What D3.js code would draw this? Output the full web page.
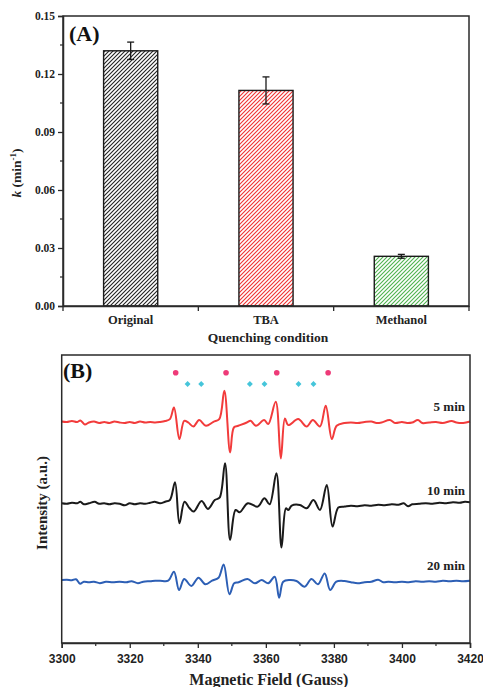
<!DOCTYPE html>
<html><head><meta charset="utf-8">
<script src="https://cdn.jsdelivr.net/npm/d3@7"></script>
<style>body{margin:0;background:#fff}svg{display:block}</style>
</head><body>
<script>
// ---- Panel A data ----
const categories = ["Original", "TBA", "Methanol"];
const kValues = [0.132, 0.1115, 0.0257];
const kErrors = [0.0045, 0.0070, 0.0010];
const barColors = ["#222222", "#f03232", "#4fb34f"];
const yTicksA = [0, 0.03, 0.06, 0.09, 0.12, 0.15];

// ---- Panel B data ----
const fieldTicks = [3300, 3320, 3340, 3360, 3380, 3400, 3420];
const traceLabels = ["5 min", "10 min", "20 min"];
const traceColors = ["#f23b3b", "#1a1a1a", "#2d5fb5"];
const traceBaselines = [221.5, 139.7, 62.3];
const dmpoOH = [3333.5, 3348.3, 3363.2, 3378.3];
const dmpoSO4 = [3337.0, 3341.0, 3355.3, 3359.6, 3369.6, 3374.0];

const trace5 = [[3300,0],[3301.5,-0.5],[3303,0.5],[3304.5,-0.5],[3305.5,1],[3306.8,-3],[3308,-1],[3309.5,0],[3311,-1.5],[3312.5,-0.5],[3314,-1.5],[3315.5,0],[3317,-1],[3318.5,-1.5],[3320,-0.5],[3321.5,-1.5],[3323,0],[3324.5,-1],[3326,-0.5],[3327.5,-1],[3328.9,-0.5],[3330.4,0.5],[3331.8,2.4],[3333.0,14],[3334.6,-17.6],[3336.0,0.7],[3337.2,-1],[3338.7,-5],[3340.4,1.4],[3342.4,-4.3],[3344.6,-0.3],[3346.3,2.4],[3347.8,30.7],[3349.5,-31],[3350.6,-6],[3351.9,-4.3],[3354.4,-1],[3355.5,0.7],[3357.1,-4.3],[3359.5,1.4],[3360.7,-2.6],[3362.9,19.7],[3364.4,-37],[3365.6,3],[3366.6,-3.6],[3369.5,2.4],[3372.0,-5],[3373.8,1.4],[3375.9,-5],[3377.6,15.7],[3379.4,-17.6],[3380.8,-4.3],[3383.1,-1.5],[3385,-1],[3387,-1.5],[3389,-0.5],[3391,0],[3392.5,-1.5],[3394,-1],[3396.4,1.5],[3398,-1.5],[3400,-0.5],[3401.5,-1.5],[3403,-1],[3404.7,1.5],[3406,-1.5],[3408,-1],[3410,-0.5],[3412,-1.5],[3414.6,0.5],[3416,-1],[3418,-1.5],[3420,0]];

const trace10 = [[3300,0],[3301.5,-0.5],[3303,0.5],[3304.5,0],[3305.5,1.5],[3306.5,-1],[3308,0],[3309.7,1.5],[3311,-0.5],[3312.5,0],[3314,-1],[3315.5,0],[3317,-0.5],[3318.5,-2],[3320,0],[3321.5,-1],[3323,0],[3324.5,-0.5],[3326,0.5],[3327.3,1.5],[3328.9,0],[3330.4,1.6],[3331.8,3.3],[3333.3,21],[3334.6,-20],[3336.1,1.6],[3337.6,-5],[3338.8,-8.3],[3341.1,2.3],[3343.0,-5.6],[3345.0,3.3],[3346.4,5.6],[3348.0,40],[3349.5,-36.7],[3351.1,-6.7],[3352.3,-9],[3354.7,0],[3357.6,-3.3],[3359.6,5],[3361.1,-1],[3363.1,30],[3364.6,-44.3],[3365.9,-5],[3366.6,-6.7],[3367.6,-2.3],[3370.0,-1.7],[3372.0,-5],[3374.0,3.3],[3375.9,-6.7],[3377.9,18.3],[3379.6,-23.3],[3381.3,-4.3],[3383.2,-3.3],[3385,-2.5],[3387,-3],[3389,-2],[3391,-2.5],[3393,-1.5],[3395,-2],[3397,-1],[3399,-1.5],[3400.5,0],[3401.8,-3],[3403,-1],[3405,-0.5],[3407,0],[3409,-0.5],[3411,0.5],[3413,0],[3415,1],[3417,0.5],[3418.5,1.5],[3420,1]];

const trace20 = [[3300,0.7],[3301.5,1],[3303,0.5],[3304.2,1.5],[3305.4,-3],[3306.5,-1],[3308,-1.5],[3309.5,-1],[3311.2,-2.5],[3313,-1],[3315,-1.5],[3317,-1],[3319,-1.5],[3320.5,-0.5],[3322.4,-2.5],[3324,-1],[3326,-0.5],[3327.5,0],[3328.9,0],[3331.3,0],[3333.0,9],[3334.5,-9.3],[3336.0,1.7],[3338.1,-5.3],[3340.2,3],[3342.2,-3.6],[3344.2,0],[3346.1,3],[3347.6,16.3],[3349.3,-13.6],[3350.7,-2.6],[3352.0,-1.6],[3354.6,1.7],[3356.8,-2.6],[3358.8,0.7],[3360.7,-2.6],[3362.6,4],[3363.9,-17],[3365.1,-1],[3367.0,0.7],[3369.0,-0.3],[3371.4,-6],[3373.4,1.7],[3375.3,-3.6],[3377.3,7.3],[3378.9,-9.3],[3380.7,-1],[3383.1,-0.3],[3385,-1.5],[3387,-2.5],[3389,-1.5],[3391,-1],[3393,1],[3394.5,-1.5],[3396,-1],[3398,-1.5],[3400,-1],[3402,-1.5],[3404,-0.5],[3406,-1],[3408,-0.5],[3410,-1],[3412,0],[3414,-0.5],[3416,0],[3418,-0.5],[3420,0]];
const traces = [trace5, trace10, trace20];

const SERIF = "'Liberation Serif','Times New Roman',serif";
const SANS = "'Liberation Sans',Arial,sans-serif";
const AX = "#2a2a2a";

const svg = d3.select("body").append("svg").attr("width",483).attr("height",687);
const defs = svg.append("defs");
barColors.forEach((c,i)=>{
  const p = defs.append("pattern").attr("id","hatch"+i).attr("patternUnits","userSpaceOnUse")
    .attr("width",4).attr("height",4);
  p.append("rect").attr("width",4).attr("height",4).attr("fill","#fff");
  p.append("path").attr("d","M-1,1 l2,-2 M0,4 l4,-4 M3,5 l2,-2")
    .attr("stroke",c).attr("stroke-width",1.1);
});

// ================= Panel A =================
const A = {l:63, r:469, t:16, b:306};
const xA = d3.scaleBand().domain(categories).range([A.l, A.r]).padding(0);
const yA = d3.scaleLinear().domain([0,0.15]).range([A.b, A.t]);
const gA = svg.append("g");

const bw = xA.bandwidth()*0.4;
gA.selectAll("rect.bar").data(categories).join("rect")
  .attr("x", d=>xA(d)+xA.bandwidth()/2-bw/2)
  .attr("y", (d,i)=>yA(kValues[i]))
  .attr("width", bw)
  .attr("height", (d,i)=>yA(0)-yA(kValues[i]))
  .attr("fill",(d,i)=>`url(#hatch${i})`)
  .attr("stroke","#1a1a1a").attr("stroke-width",1.4);

categories.forEach((c,i)=>{
  const cx = xA(c)+xA.bandwidth()/2;
  const y1 = yA(kValues[i]+kErrors[i]), y2 = yA(kValues[i]-kErrors[i]);
  const g = gA.append("g").attr("stroke","#1a1a1a").attr("stroke-width",1.3);
  g.append("line").attr("x1",cx).attr("x2",cx).attr("y1",y1).attr("y2",y2);
  g.append("line").attr("x1",cx-3.5).attr("x2",cx+3.5).attr("y1",y1).attr("y2",y1);
  g.append("line").attr("x1",cx-3.5).attr("x2",cx+3.5).attr("y1",y2).attr("y2",y2);
});

gA.append("rect").attr("x",A.l).attr("y",A.t).attr("width",A.r-A.l).attr("height",A.b-A.t)
  .attr("fill","none").attr("stroke",AX).attr("stroke-width",1.5);

const yAxA = gA.append("g").attr("transform",`translate(${A.l},0)`)
  .call(d3.axisLeft(yA).tickValues(yTicksA).tickFormat(d3.format(".2f")).tickSize(5).tickPadding(3));
yAxA.select(".domain").attr("stroke",AX).attr("stroke-width",1.5);
yAxA.selectAll(".tick line").attr("stroke",AX).attr("stroke-width",1.3);
yAxA.selectAll("text").attr("font-family",SERIF).attr("font-weight","bold").attr("font-size",11.5).attr("fill","#222");
const minorA = d3.range(0.015,0.15,0.03);
gA.selectAll("line.minA").data(minorA).join("line")
  .attr("x1",A.l-3).attr("x2",A.l).attr("y1",d=>yA(d)).attr("y2",d=>yA(d))
  .attr("stroke",AX).attr("stroke-width",1.2);

const xAxA = gA.append("g").attr("transform",`translate(0,${A.b})`)
  .call(d3.axisBottom(xA).tickSize(0).tickPadding(9));
xAxA.select(".domain").attr("stroke",AX).attr("stroke-width",1.5);
xAxA.selectAll("text").attr("font-family",SERIF).attr("font-weight","bold").attr("font-size",12.5).attr("fill","#222");
const bounds = categories.map(c=>xA(c)).concat([A.r]);
gA.selectAll("line.bnd").data(bounds).join("line")
  .attr("x1",d=>d).attr("x2",d=>d).attr("y1",A.b).attr("y2",A.b+5)
  .attr("stroke",AX).attr("stroke-width",1.3);

gA.append("text").attr("x",(A.l+A.r)/2+2).attr("y",342).attr("text-anchor","middle")
  .attr("font-family",SERIF).attr("font-weight","bold").attr("font-size",13.5).attr("fill","#222")
  .text("Quenching condition");
const yl = gA.append("text").attr("transform",`translate(21,${(A.t+A.b)/2+12}) rotate(-90)`)
  .attr("text-anchor","middle").attr("font-family",SERIF).attr("font-weight","bold").attr("font-size",13.5).attr("fill","#222");
yl.append("tspan").attr("font-style","italic").text("k");
yl.append("tspan").text(" (min");
yl.append("tspan").attr("font-size",9).attr("dy",-5).text("-1");
yl.append("tspan").attr("dy",5).text(")");
gA.append("text").attr("x",69).attr("y",41).attr("font-family",SERIF).attr("font-weight","bold")
  .attr("font-size",22).attr("fill","#111").text("(A)");

// ================= Panel B =================
const B = {l:61.7, r:470, t:355, b:643};
const xB = d3.scaleLinear().domain([3300,3420]).range([B.l,B.r]);
const yB = d3.scaleLinear().domain([0,288]).range([B.b,B.t]);
const gB = svg.append("g");

const line = d3.line().x(d=>xB(d[0])).y(d=>yB(d[1])).curve(d3.curveCatmullRom.alpha(0.5));
traces.forEach((tr,i)=>{
  gB.append("path").datum(tr.map(p=>[p[0], p[1]+traceBaselines[i]]))
    .attr("d",line).attr("fill","none").attr("stroke",traceColors[i])
    .attr("stroke-width",2).attr("stroke-linejoin","round");
});

gB.selectAll("circle.oh").data(dmpoOH).join("circle")
  .attr("cx",d=>xB(d)).attr("cy",yB(270.3)).attr("r",2.8).attr("fill","#ee3a78");
const diam = d3.symbol().type(d3.symbolDiamond2).size(22);
gB.selectAll("path.so4").data(dmpoSO4).join("path")
  .attr("d",diam).attr("transform",d=>`translate(${xB(d)},${yB(259)})`).attr("fill","#45c5da");

const labelY = [232.5, 148.5, 73.5];
traceLabels.forEach((t,i)=>{
  gB.append("text").attr("x",465).attr("y",yB(labelY[i])).attr("text-anchor","end")
    .attr("font-family",SERIF).attr("font-weight","bold").attr("font-size",13).attr("fill","#222").text(t);
});

gB.append("rect").attr("x",B.l).attr("y",B.t).attr("width",B.r-B.l).attr("height",B.b-B.t)
  .attr("fill","none").attr("stroke",AX).attr("stroke-width",1.5);
const xAxB = gB.append("g").attr("transform",`translate(0,${B.b})`)
  .call(d3.axisBottom(xB).tickValues(fieldTicks).tickFormat(d3.format("d")).tickSize(5).tickPadding(6));
xAxB.select(".domain").attr("stroke",AX).attr("stroke-width",1.5);
xAxB.selectAll(".tick line").attr("stroke",AX).attr("stroke-width",1.3);
xAxB.selectAll("text").attr("font-family",SANS).attr("font-weight","bold").attr("font-size",12).attr("fill","#222");
gB.selectAll("line.minB").data(d3.range(3310,3420,20)).join("line")
  .attr("x1",d=>xB(d)).attr("x2",d=>xB(d)).attr("y1",B.b).attr("y2",B.b+3)
  .attr("stroke",AX).attr("stroke-width",1.2);

gB.append("text").attr("x",(B.l+B.r)/2+3).attr("y",685).attr("text-anchor","middle")
  .attr("font-family",SERIF).attr("font-weight","bold").attr("font-size",16).attr("fill","#222")
  .text("Magnetic Field (Gauss)");
gB.append("text").attr("transform",`translate(47,${503}) rotate(-90)`).attr("text-anchor","middle")
  .attr("font-family",SERIF).attr("font-weight","bold").attr("font-size",15).attr("fill","#222")
  .text("Intensity (a.u.)");
gB.append("text").attr("x",63).attr("y",378).attr("font-family",SERIF).attr("font-weight","bold")
  .attr("font-size",22).attr("fill","#111").text("(B)");
</script>
</body></html>
